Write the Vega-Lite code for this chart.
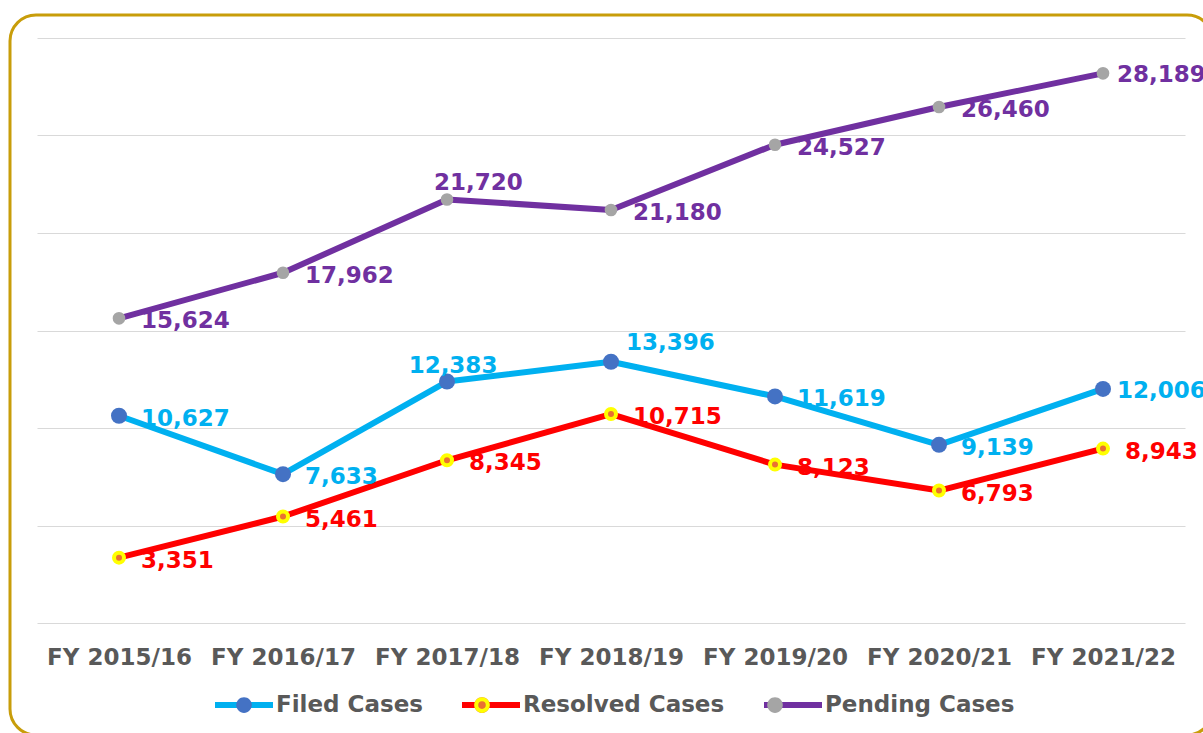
{
  "$schema": "https://vega.github.io/schema/vega-lite/v6.json",
  "autosize": "none",
  "width": 1203,
  "height": 720,
  "padding": {"left": 10, "top": 15, "right": -10, "bottom": -2},
  "background": "#FFFFFF",
  "config": {
    "view": {"stroke": "#C89D0A", "strokeWidth": 3, "cornerRadius": 26, "fill": null},
    "font": "DejaVu Sans"
  },
  "data": {
    "values": [
      {"year": "FY 2015/16", "series": "Filed Cases", "value": 10627},
      {"year": "FY 2016/17", "series": "Filed Cases", "value": 7633},
      {"year": "FY 2017/18", "series": "Filed Cases", "value": 12383},
      {"year": "FY 2018/19", "series": "Filed Cases", "value": 13396},
      {"year": "FY 2019/20", "series": "Filed Cases", "value": 11619},
      {"year": "FY 2020/21", "series": "Filed Cases", "value": 9139},
      {"year": "FY 2021/22", "series": "Filed Cases", "value": 12006},
      {"year": "FY 2015/16", "series": "Resolved Cases", "value": 3351},
      {"year": "FY 2016/17", "series": "Resolved Cases", "value": 5461},
      {"year": "FY 2017/18", "series": "Resolved Cases", "value": 8345},
      {"year": "FY 2018/19", "series": "Resolved Cases", "value": 10715},
      {"year": "FY 2019/20", "series": "Resolved Cases", "value": 8123},
      {"year": "FY 2020/21", "series": "Resolved Cases", "value": 6793},
      {"year": "FY 2021/22", "series": "Resolved Cases", "value": 8943},
      {"year": "FY 2015/16", "series": "Pending Cases", "value": 15624},
      {"year": "FY 2016/17", "series": "Pending Cases", "value": 17962},
      {"year": "FY 2017/18", "series": "Pending Cases", "value": 21720},
      {"year": "FY 2018/19", "series": "Pending Cases", "value": 21180},
      {"year": "FY 2019/20", "series": "Pending Cases", "value": 24527},
      {"year": "FY 2020/21", "series": "Pending Cases", "value": 26460},
      {"year": "FY 2021/22", "series": "Pending Cases", "value": 28189}
    ]
  },
  "encoding": {
    "x": {
      "field": "year", "type": "ordinal",
      "scale": {"type": "point", "range": [27, 1175], "padding": 0.5},
      "axis": {
        "orient": "bottom", "title": null, "offset": -71, "domain": false, "ticks": false, "tickSize": 0,
        "grid": false, "labelPadding": 0, "labelBaseline": "alphabetic", "labelAngle": 0,
        "labelFont": "DejaVu Sans", "labelFontSize": 23, "labelFontWeight": "bold", "labelColor": "#595959",
        "labelOverlap": false, "labelLimit": 300
      }
    },
    "y": {
      "field": "value", "type": "quantitative",
      "scale": {"domain": [0, 30000], "range": [608, 23], "nice": false, "zero": false},
      "axis": {
        "title": null, "labels": false, "ticks": false, "domain": false, "grid": true,
        "gridColor": "#D9D9D9", "gridWidth": 1,
        "values": [0, 5000, 10000, 15000, 20000, 25000, 30000]
      }
    }
  },
  "layer": [
    {
      "mark": {"type": "line", "strokeWidth": 6, "strokeCap": "round", "strokeJoin": "round"},
      "encoding": {
        "color": {
          "field": "series", "type": "nominal",
          "scale": {"domain": ["Filed Cases", "Resolved Cases", "Pending Cases"], "range": ["#00B0F0", "#FF0000", "#7030A0"]},
          "legend": {
            "orient": "none", "legendX": 202, "legendY": 658, "direction": "horizontal", "title": null,
            "symbolType": "stroke", "symbolSize": 3364, "symbolStrokeWidth": 6,
            "labelFont": "DejaVu Sans", "labelFontSize": 23, "labelFontWeight": "bold", "labelColor": "#595959",
            "labelOffset": 0, "labelLimit": 300, "columnPadding": 27, "padding": 0, "zindex": 1
          }
        }
      }
    },
    {
      "mark": {"type": "point", "filled": true, "opacity": 1, "strokeWidth": 4},
      "encoding": {
        "fill": {
          "field": "series", "type": "nominal",
          "sort": ["Filed Cases", "Resolved Cases", "Pending Cases"],
          "scale": {"range": ["#4472C4", "#E97132", "#A5A5A5"]},
          "legend": {
            "orient": "none", "legendX": 202, "legendY": 658, "direction": "horizontal", "title": null,
            "symbolType": "M-0.26,0A0.26,0.26,0,1,1,0.26,0A0.26,0.26,0,1,1,-0.26,0Z", "symbolSize": 3600, "symbolStrokeWidth": 4,
            "symbolStrokeColor": "transparent",
            "labelFont": "DejaVu Sans", "labelFontSize": 23, "labelFontWeight": "bold", "labelColor": "#595959",
            "labelOpacity": 0, "labelOffset": 0, "labelLimit": 300, "columnPadding": 27, "padding": 0, "zindex": 2
          }
        },
        "stroke": {
          "field": "series", "type": "nominal",
          "sort": ["Filed Cases", "Resolved Cases", "Pending Cases"],
          "scale": {"range": ["transparent", "#FFFF00", "transparent"]},
          "legend": {
            "orient": "none", "legendX": 202, "legendY": 658, "direction": "horizontal", "title": null,
            "symbolType": "M-0.193,0A0.193,0.193,0,1,1,0.193,0A0.193,0.193,0,1,1,-0.193,0Z", "symbolSize": 3600, "symbolStrokeWidth": 4,
            "symbolFillColor": "transparent",
            "labelFont": "DejaVu Sans", "labelFontSize": 23, "labelFontWeight": "bold", "labelColor": "#595959",
            "labelOpacity": 0, "labelOffset": 0, "labelLimit": 300, "columnPadding": 27, "padding": 0, "zindex": 3
          }
        },
        "size": {"condition": [
          {"test": "datum.series === 'Filed Cases'", "value": 256},
          {"test": "datum.series === 'Resolved Cases'", "value": 100}
        ], "value": 160}
      }
    },
    {
      "transform": [{"filter": "!((datum.series === 'Filed Cases' && (datum.year === 'FY 2017/18' || datum.year === 'FY 2018/19' || datum.year === 'FY 2021/22')) || (datum.series === 'Pending Cases' && (datum.year === 'FY 2017/18' || datum.year === 'FY 2021/22')))"}],
      "mark": {"type": "text", "align": "left", "baseline": "alphabetic", "dx": 22, "dy": 10, "font": "DejaVu Sans", "fontSize": 23, "fontWeight": "bold"},
      "encoding": {
        "text": {"field": "value", "type": "quantitative", "format": ","},
        "color": {"field": "series", "type": "nominal", "legend": null}
      }
    },
    {
      "transform": [{"filter": "(datum.series === 'Filed Cases' || datum.series === 'Pending Cases') && datum.year === 'FY 2021/22'"}],
      "mark": {"type": "text", "align": "left", "baseline": "alphabetic", "dx": 14, "dy": 9, "font": "DejaVu Sans", "fontSize": 23, "fontWeight": "bold"},
      "encoding": {
        "text": {"field": "value", "type": "quantitative", "format": ","},
        "color": {"field": "series", "type": "nominal", "legend": null}
      }
    },
    {
      "transform": [{"filter": "datum.series === 'Filed Cases' && datum.year === 'FY 2017/18'"}],
      "mark": {"type": "text", "align": "center", "baseline": "alphabetic", "dx": 6, "dy": -9, "font": "DejaVu Sans", "fontSize": 23, "fontWeight": "bold"},
      "encoding": {
        "text": {"field": "value", "type": "quantitative", "format": ","},
        "color": {"field": "series", "type": "nominal", "legend": null}
      }
    },
    {
      "transform": [{"filter": "datum.series === 'Filed Cases' && datum.year === 'FY 2018/19'"}],
      "mark": {"type": "text", "align": "left", "baseline": "alphabetic", "dx": 15, "dy": -12, "font": "DejaVu Sans", "fontSize": 23, "fontWeight": "bold"},
      "encoding": {
        "text": {"field": "value", "type": "quantitative", "format": ","},
        "color": {"field": "series", "type": "nominal", "legend": null}
      }
    },
    {
      "transform": [{"filter": "datum.series === 'Pending Cases' && datum.year === 'FY 2017/18'"}],
      "mark": {"type": "text", "align": "left", "baseline": "alphabetic", "dx": -13, "dy": -9, "font": "DejaVu Sans", "fontSize": 23, "fontWeight": "bold"},
      "encoding": {
        "text": {"field": "value", "type": "quantitative", "format": ","},
        "color": {"field": "series", "type": "nominal", "legend": null}
      }
    }
  ]
}
